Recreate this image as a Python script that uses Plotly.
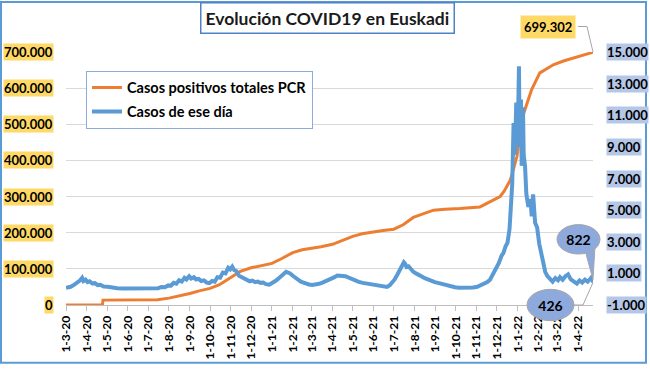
import plotly.graph_objects as go

# ---------------- data ----------------
blue_dates = [
    "2020-03-01", "2020-03-08", "2020-03-14", "2020-03-18", "2020-03-22", "2020-03-25", "2020-03-27", "2020-03-30",
    "2020-04-02", "2020-04-05", "2020-04-09", "2020-04-13", "2020-04-17", "2020-04-21", "2020-04-26", "2020-05-02",
    "2020-05-09", "2020-05-16", "2020-05-25", "2020-06-10", "2020-06-25", "2020-07-10", "2020-07-16", "2020-07-21",
    "2020-07-26", "2020-07-31", "2020-08-04", "2020-08-08", "2020-08-12", "2020-08-16", "2020-08-20", "2020-08-24",
    "2020-08-27", "2020-08-31", "2020-09-03", "2020-09-07", "2020-09-10", "2020-09-14", "2020-09-18", "2020-09-22",
    "2020-09-26", "2020-09-30", "2020-10-04", "2020-10-08", "2020-10-12", "2020-10-16", "2020-10-20", "2020-10-24",
    "2020-10-28", "2020-10-31", "2020-11-03", "2020-11-06", "2020-11-09", "2020-11-13", "2020-11-17", "2020-11-21",
    "2020-11-25", "2020-11-29", "2020-12-03", "2020-12-07", "2020-12-11", "2020-12-15", "2020-12-19", "2020-12-23",
    "2020-12-28", "2021-01-02", "2021-01-06", "2021-01-10", "2021-01-14", "2021-01-18", "2021-01-22", "2021-01-25",
    "2021-01-28", "2021-02-01", "2021-02-05", "2021-02-09", "2021-02-13", "2021-02-17", "2021-02-21", "2021-02-25",
    "2021-03-02", "2021-03-07", "2021-03-12", "2021-03-17", "2021-03-22", "2021-03-26", "2021-03-30", "2021-04-04",
    "2021-04-08", "2021-04-12", "2021-04-16", "2021-04-20", "2021-04-25", "2021-04-30", "2021-05-05", "2021-05-10",
    "2021-05-16", "2021-05-22", "2021-05-28", "2021-06-04", "2021-06-10", "2021-06-16", "2021-06-21", "2021-06-25",
    "2021-06-29", "2021-07-02", "2021-07-06", "2021-07-10", "2021-07-13", "2021-07-16", "2021-07-18", "2021-07-20",
    "2021-07-23", "2021-07-26", "2021-07-30", "2021-08-03", "2021-08-07", "2021-08-11", "2021-08-16", "2021-08-21",
    "2021-08-26", "2021-08-31", "2021-09-06", "2021-09-12", "2021-09-18", "2021-09-24", "2021-09-30", "2021-10-06",
    "2021-10-13", "2021-10-20", "2021-10-27", "2021-11-02", "2021-11-07", "2021-11-12", "2021-11-17", "2021-11-21",
    "2021-11-25", "2021-11-28", "2021-12-01", "2021-12-04", "2021-12-08", "2021-12-11", "2021-12-14", "2021-12-17",
    "2021-12-20", "2021-12-22", "2021-12-24", "2021-12-26", "2021-12-28", "2021-12-30", "2022-01-01", "2022-01-03",
    "2022-01-04", "2022-01-06", "2022-01-07", "2022-01-09", "2022-01-10", "2022-01-12", "2022-01-14", "2022-01-17",
    "2022-01-20", "2022-01-22", "2022-01-24", "2022-01-27", "2022-01-30", "2022-02-02", "2022-02-05", "2022-02-08",
    "2022-02-11", "2022-02-14", "2022-02-18", "2022-02-22", "2022-02-26", "2022-03-02", "2022-03-05", "2022-03-09",
    "2022-03-13", "2022-03-17", "2022-03-21", "2022-03-25", "2022-03-30", "2022-04-03", "2022-04-07", "2022-04-11",
    "2022-04-15", "2022-04-19", "2022-04-22", "2022-04-23",
]
blue_values = [
    80, 150, 300, 420, 560, 720, 520, 600,
    450, 500, 360, 380, 260, 280, 170, 150,
    90, 60, 40, 40, 40, 40, 60, 140,
    120, 240, 220, 400, 350, 560, 480, 720,
    620, 820, 680, 760, 620, 650, 520, 560,
    420, 380, 520, 480, 760, 720, 1050, 1000,
    1350, 1250, 1420, 1200, 1150, 850, 760, 640,
    620, 500, 540, 440, 480, 400, 420, 320,
    290, 400, 520, 650, 800, 950, 1100, 1050,
    1000, 850, 700, 600, 480, 420, 340, 300,
    260, 280, 340, 420, 500, 580, 640, 760,
    860, 880, 840, 820, 720, 650, 560, 460,
    400, 350, 320, 250, 200, 150, 140, 250,
    420, 600, 900, 1200, 1500, 1700, 1600, 1400,
    1450, 1250, 1100, 1000, 880, 820, 700, 600,
    520, 450, 380, 300, 240, 180, 120, 90,
    80, 90, 110, 150, 230, 330, 450, 600,
    900, 1250, 1400, 1650, 2100, 2300, 2700, 2950,
    3800, 5000, 6650, 10500, 8500, 11800, 9000, 14100,
    9200, 12000, 7800, 11500, 8500, 7800, 6000, 5200,
    5700, 4600, 6000, 4200, 3900, 2900, 2200, 1600,
    1100, 850, 650, 480, 700, 560, 760, 600,
    820, 940, 620, 480, 350, 550, 420, 600,
    480, 650, 822, 426,
]

orange_dates = [
    "2020-03-01", "2020-04-24", "2020-04-25", "2020-07-15", "2020-08-01", "2020-08-15", "2020-09-01", "2020-09-15",
    "2020-10-01", "2020-10-15", "2020-11-01", "2020-11-15", "2020-12-01", "2020-12-15", "2021-01-01", "2021-01-15",
    "2021-02-01", "2021-02-15", "2021-03-01", "2021-03-15", "2021-04-01", "2021-04-15", "2021-05-01", "2021-05-15",
    "2021-06-01", "2021-06-15", "2021-07-01", "2021-07-15", "2021-07-30", "2021-08-15", "2021-08-29", "2021-09-15",
    "2021-10-07", "2021-11-06", "2021-11-20", "2021-12-06", "2021-12-12", "2021-12-18", "2021-12-21", "2021-12-25",
    "2021-12-31", "2022-01-09", "2022-01-22", "2022-02-03", "2022-02-23", "2022-03-10", "2022-03-25", "2022-04-10",
    "2022-04-23",
]
orange_values = [
    0, 0, 13500, 14500, 19000, 24500, 31700, 39000,
    46000, 56000, 75000, 93000, 103000, 109000, 115000, 128000,
    145000, 153000, 157000, 161000, 168000, 178000, 190000, 197000,
    203000, 206000, 209700, 222000, 242300, 254000, 262300, 265000,
    266700, 271300, 284900, 300300, 315000, 334500, 345000, 370000,
    411500, 524400, 596900, 642200, 664700, 675000, 682800, 691000,
    699302,
]

left_ticks = [0, 100000, 200000, 300000, 400000, 500000, 600000, 700000]
right_ticks = [-1000, 1000, 3000, 5000, 7000, 9000, 11000, 13000, 15000]

title_text = "Evolución COVID19 en Euskadi"
name_total = "Casos positivos totales PCR"
name_daily = "Casos de ese día"

# ---------------- helpers ----------------
L, R, T, B = 66, 593, 52, 310
W, H = R - L, B - T


def px(x):
    return (x - L) / W


def py(y):
    return (B - y) / H


def fmt(v):
    return f"{v:,}".replace(",", ".")


FONT = "Lato, 'Open Sans', sans-serif"
ORANGE = "#ED7D31"
BLUE = "#5B9BD5"
BUBBLE = "#8EA9DB"

fig = go.Figure()
fig.add_trace(go.Scatter(
    x=orange_dates, y=orange_values, mode="lines", name=name_total,
    line=dict(color=ORANGE, width=3), legendgroup="a", yaxis="y",
))
fig.add_trace(go.Scatter(
    x=blue_dates, y=blue_values, mode="lines", name=name_daily,
    line=dict(color=BLUE, width=4), legendgroup="b", yaxis="y2",
))

annotations = []
for v in left_ticks:
    annotations.append(dict(
        x=px(54), xref="paper", y=v, yref="y", text=fmt(v), showarrow=False,
        xanchor="right", yanchor="middle", bgcolor="#FFD966", borderpad=0,
        font=dict(family=FONT, size=13, color="black", weight="bold"),
    ))
for v in right_ticks:
    annotations.append(dict(
        x=px(606), xref="paper", y=v, yref="y2", text=fmt(v), showarrow=False,
        xanchor="left", yanchor="middle", bgcolor="#B4C7E7", borderpad=0,
        font=dict(family=FONT, size=13, color="black", weight="bold"),
    ))

# title box
annotations.append(dict(
    x=px(327), y=py(17), xref="paper", yref="paper", text=title_text, showarrow=False,
    xanchor="center", yanchor="middle", bgcolor="white", bordercolor="#4F81C7",
    borderwidth=1.5, borderpad=4,
    font=dict(family=FONT, size=17.5, color="#1a1a1a", weight="bold"),
))

# value label for the last cumulative value
last_total = orange_values[-1]
annotations.append(dict(
    x=px(548), y=py(26), xref="paper", yref="paper", text=fmt(last_total), showarrow=False,
    xanchor="center", yanchor="middle", bgcolor="#FFD966", borderpad=3,
    font=dict(family=FONT, size=13, color="black", weight="bold"),
))


def path(points, close=False):
    s = "M " + " L ".join(f"{px(a):.5f},{py(b):.5f}" for a, b in points)
    return s + (" Z" if close else "")


label_font = dict(family=FONT, size=14, color="black", weight="bold")

shapes = [
    # outer frame
    dict(type="rect", xref="paper", yref="paper", x0=px(1), x1=px(646), y0=py(369), y1=py(1),
         line=dict(color=BLUE, width=2), layer="above"),
    # leader for total
    dict(type="path", xref="paper", yref="paper", path=path([(578, 26), (587, 26), (593, 52)]),
         line=dict(color="#A6A6A6", width=1), layer="above"),
    # 822 bubble tail + ellipse
    dict(type="path", xref="paper", yref="paper", path=path([(585, 254), (593, 284), (595, 250)], close=True),
         fillcolor=BUBBLE, line=dict(color="#A6A6A6", width=1), layer="above"),
    dict(type="circle", xref="paper", yref="paper", x0=px(557), x1=px(600), y0=py(258), y1=py(228),
         fillcolor=BUBBLE, line=dict(color="#A6A6A6", width=1), layer="above",
         label=dict(text=fmt(blue_values[-2]), font=label_font, textposition="middle center")),
    # 426 leader + ellipse
    dict(type="path", xref="paper", yref="paper", path=path([(572, 310), (583, 310), (593, 287)]),
         line=dict(color="#A6A6A6", width=1), layer="above"),
    dict(type="circle", xref="paper", yref="paper", x0=px(527), x1=px(574), y0=py(326), y1=py(294),
         fillcolor=BUBBLE, line=dict(color="#A6A6A6", width=1), layer="above",
         label=dict(text=fmt(blue_values[-1]), font=label_font, textposition="middle center")),
]

fig.update_layout(
    width=650, height=372,
    margin=dict(l=L, r=650 - R, t=T, b=372 - B, pad=0),
    paper_bgcolor="white", plot_bgcolor="white",
    font=dict(family=FONT, color="black"),
    showlegend=True,
    legend=dict(
        x=px(86), y=py(71), xanchor="left", yanchor="top",
        bgcolor="white", bordercolor="#8FAADC", borderwidth=1,
        font=dict(family=FONT, size=14.5, color="black", weight="bold"),
        traceorder="grouped", tracegroupgap=2,
    ),
    xaxis=dict(
        type="date", range=["2020-03-01", "2022-04-23"],
        tick0="2020-03-01", dtick="M1", tickformat="%-d-%-m-%y",
        tickangle=-90, ticks="outside", ticklen=5, tickcolor="#BFBFBF",
        showline=True, linecolor="#BFBFBF", linewidth=1, showgrid=False, zeroline=False,
        tickfont=dict(family=FONT, size=12, color="black", weight="bold"),
    ),
    yaxis=dict(
        range=[left_ticks[0], left_ticks[-1]], tickvals=left_ticks, showticklabels=False,
        showgrid=True, gridcolor="#D9D9D9", gridwidth=1, zeroline=False, ticks="",
    ),
    yaxis2=dict(
        range=[right_ticks[0], right_ticks[-1]], overlaying="y", side="right",
        showticklabels=False, showgrid=False, zeroline=False, ticks="",
    ),
    annotations=annotations,
    shapes=shapes,
)

fig.write_html(
    "out.html",
    config={"displayModeBar": False},
    post_script="document.body.style.margin='0';document.body.style.padding='0';",
)
